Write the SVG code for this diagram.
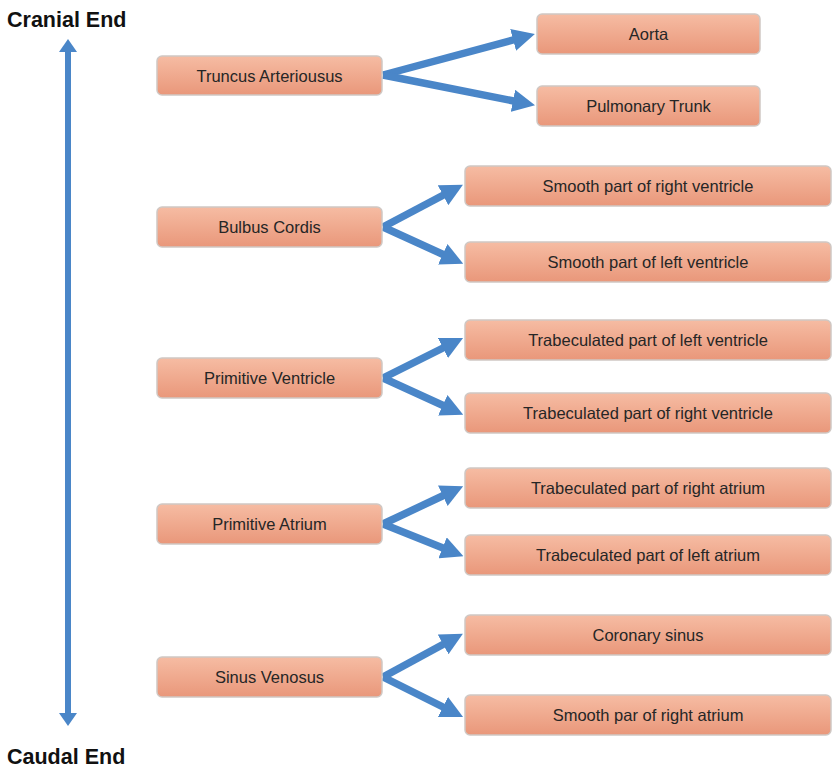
<svg xmlns="http://www.w3.org/2000/svg" width="833" height="768" viewBox="0 0 833 768">
<defs>
<linearGradient id="g" x1="0" y1="0" x2="0" y2="1">
<stop offset="0" stop-color="#f6bca3"/>
<stop offset="1" stop-color="#e9977a"/>
</linearGradient>
<marker id="ah2" markerWidth="3" markerHeight="3" refX="1.5" refY="1.5" orient="auto" markerUnits="strokeWidth" viewBox="0 0 3 3">
<path d="M0,0 L3,1.5 L0,3 Z" fill="#4a86c8"/>
</marker>
</defs>
<style>
.box{fill:url(#g);stroke:#cfc8c4;stroke-width:1.5}
.t{font-family:"Liberation Sans",Arial,sans-serif;font-size:16.5px;fill:#262626;text-anchor:middle}
.h{font-family:"Liberation Sans",Arial,sans-serif;font-size:21.5px;font-weight:bold;fill:#111}
.a{stroke:#4a86c8;stroke-width:7.5;fill:none;marker-end:url(#ah2)}
</style>
<rect width="833" height="768" fill="#fff"/>
<text class="h" x="7" y="27">Cranial End</text>
<text class="h" x="7" y="764">Caudal End</text>
<g id="axis">
<line x1="68" y1="50" x2="68" y2="715" stroke="#4a86c8" stroke-width="6"/>
<path d="M59,52 L68,39 L77,52 Z" fill="#4a86c8"/>
<path d="M59,713 L68,726 L77,713 Z" fill="#4a86c8"/>
</g>
<g id="connectors">
<path class="a" d="M383,75 L524,37"/>
<path class="a" d="M383,75 L524,103"/>
<path class="a" d="M383,227 L453,190"/>
<path class="a" d="M383,227 L453,259"/>
<path class="a" d="M383,378 L453,343"/>
<path class="a" d="M383,378 L453,410"/>
<path class="a" d="M383,524 L453,491"/>
<path class="a" d="M383,524 L453,552"/>
<path class="a" d="M383,677 L453,639"/>
<path class="a" d="M383,677 L453,712"/>
</g>
<g id="truncus"><rect class="box" x="157" y="56" width="225" height="39" rx="5"/><text class="t" x="269.5" y="81.5">Truncus Arteriousus</text></g>
<g id="bulbus"><rect class="box" x="157" y="207" width="225" height="40" rx="5"/><text class="t" x="269.5" y="233">Bulbus Cordis</text></g>
<g id="ventricle"><rect class="box" x="157" y="358" width="225" height="40" rx="5"/><text class="t" x="269.5" y="384">Primitive Ventricle</text></g>
<g id="atrium"><rect class="box" x="157" y="504" width="225" height="40" rx="5"/><text class="t" x="269.5" y="530">Primitive Atrium</text></g>
<g id="sinus"><rect class="box" x="157" y="657" width="225" height="40" rx="5"/><text class="t" x="269.5" y="683">Sinus Venosus</text></g>
<g id="aorta"><rect class="box" x="537" y="14" width="223" height="40" rx="5"/><text class="t" x="648.5" y="40">Aorta</text></g>
<g id="pulmonary"><rect class="box" x="537" y="86" width="223" height="40" rx="5"/><text class="t" x="648.5" y="112">Pulmonary Trunk</text></g>
<g id="smooth-rv"><rect class="box" x="465" y="166" width="366" height="40" rx="5"/><text class="t" x="648" y="192">Smooth part of right ventricle</text></g>
<g id="smooth-lv"><rect class="box" x="465" y="242" width="366" height="40" rx="5"/><text class="t" x="648" y="268">Smooth part of left ventricle</text></g>
<g id="trab-lv"><rect class="box" x="465" y="320" width="366" height="40" rx="5"/><text class="t" x="648" y="346">Trabeculated part of left ventricle</text></g>
<g id="trab-rv"><rect class="box" x="465" y="393" width="366" height="40" rx="5"/><text class="t" x="648" y="419">Trabeculated part of right ventricle</text></g>
<g id="trab-ra"><rect class="box" x="465" y="468" width="366" height="40" rx="5"/><text class="t" x="648" y="494">Trabeculated part of right atrium</text></g>
<g id="trab-la"><rect class="box" x="465" y="535" width="366" height="40" rx="5"/><text class="t" x="648" y="561">Trabeculated part of left atrium</text></g>
<g id="coronary"><rect class="box" x="465" y="615" width="366" height="40" rx="5"/><text class="t" x="648" y="641">Coronary sinus</text></g>
<g id="smooth-ra"><rect class="box" x="465" y="695" width="366" height="40" rx="5"/><text class="t" x="648" y="721">Smooth par of right atrium</text></g>
</svg>
